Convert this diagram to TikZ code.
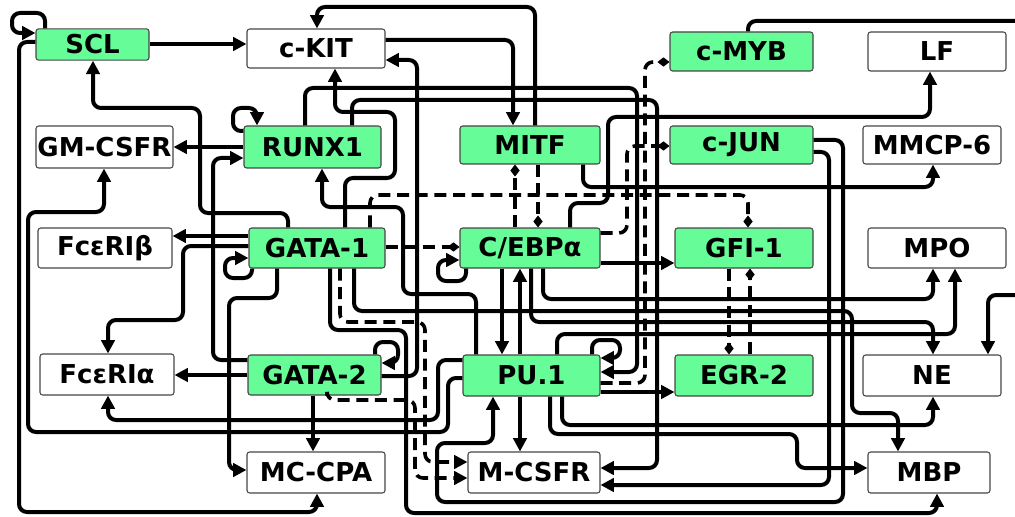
\documentclass[tikz,border=0pt]{standalone}
\usepackage{fontspec}
\setsansfont{DejaVu Sans}
\usetikzlibrary{arrows.meta}
\definecolor{gfill}{RGB}{102,252,152}
\definecolor{bord}{RGB}{70,70,70}
\tikzset{
  box/.style={draw=bord, line width=0.8pt, rounded corners=2pt, inner sep=0pt,
    font=\sffamily\bfseries\fontsize{19.5}{21}\selectfont},
  gbox/.style={box, fill=gfill},
  wbox/.style={box, fill=white},
  arr/.style={line width=3pt, rounded corners=6pt, -{Triangle[length=10pt,width=10pt]}},
  inh/.style={line width=2.7pt, rounded corners=6pt, dash pattern=on 9pt off 5pt, -{Diamond[length=9pt,width=7pt]}},
  darr/.style={line width=2.7pt, rounded corners=6pt, dash pattern=on 9pt off 5pt, -{Triangle[length=10pt,width=10pt]}}
}
\begin{document}
\begin{tikzpicture}[x=0.75pt,y=-0.75pt]
\useasboundingbox (0,0) rectangle (1015,517);
% nodes
\node[gbox, minimum width=84.75pt, minimum height=23.5pt] (scl) at (92.5,44.5) {SCL};
\node[wbox, minimum width=103.5pt, minimum height=29.25pt] (ckit) at (316,48.5) {c-KIT};
\node[gbox, minimum width=107.25pt, minimum height=29.25pt] (cmyb) at (741.5,51.5) {c-MYB};
\node[wbox, minimum width=103.5pt, minimum height=29.25pt] (lf) at (937,51.5) {LF};
\node[wbox, minimum width=102.75pt, minimum height=31.5pt] (gmcsfr) at (104.5,147) {GM-CSFR};
\node[gbox, minimum width=102.75pt, minimum height=31.5pt] (runx1) at (312.5,147) {RUNX1};
\node[gbox, minimum width=105pt, minimum height=28.5pt] (mitf) at (530,145) {MITF};
\node[gbox, minimum width=107.25pt, minimum height=28.5pt] (cjun) at (741.5,145) {c-JUN};
\node[wbox, minimum width=103.5pt, minimum height=28.5pt] (mmcp6) at (932,145) {MMCP-6};
\node[wbox, minimum width=100.5pt, minimum height=30pt] (fcerib) at (105,248) {FcεRIβ};
\node[gbox, minimum width=102pt, minimum height=30pt] (gata1) at (317,248) {GATA-1};
\node[gbox, minimum width=105pt, minimum height=30pt] (cebpa) at (530,248) {C/EBPα};
\node[gbox, minimum width=103.5pt, minimum height=30pt] (gfi1) at (744,248) {GFI-1};
\node[wbox, minimum width=103.5pt, minimum height=30pt] (mpo) at (937,248) {MPO};
\node[wbox, minimum width=100.5pt, minimum height=30.75pt] (fceria) at (107,374.5) {FcεRIα};
\node[gbox, minimum width=99.75pt, minimum height=30pt] (gata2) at (314.5,375) {GATA-2};
\node[gbox, minimum width=102.75pt, minimum height=30.75pt] (pu1) at (531.5,375.5) {PU.1};
\node[gbox, minimum width=103.5pt, minimum height=30.75pt] (egr2) at (744,375.5) {EGR-2};
\node[wbox, minimum width=103.5pt, minimum height=30.75pt] (ne) at (932,375.5) {NE};
\node[wbox, minimum width=103.5pt, minimum height=30.75pt] (mccpa) at (316,472.5) {MC-CPA};
\node[wbox, minimum width=99pt, minimum height=30.75pt] (mcsfr) at (534,472.5) {M-CSFR};
\node[wbox, minimum width=91.5pt, minimum height=30.75pt] (mbp) at (929,472.5) {MBP};
% solid activating edges
\draw[arr] (45,0 |- scl.north) -- (45,13) -- (12,13) -- (12,33) -- (scl.west |- 0,33);
\draw[arr] (scl.east |- 0,44) -- (ckit.west |- 0,44);
\draw[arr] (scl.west |- 0,42) -- (19,42) -- (19,512) -- (317,512) -- (317,0 |- mccpa.south);
\draw[arr] (pu1.west |- 0,360) -- (438,360) -- (438,420) -- (108,420) -- (108,0 |- fceria.south);
\draw[arr] (pu1.west |- 0,378) -- (448,378) -- (448,432) -- (28,432) -- (28,212) -- (104,212) -- (104,0 |- gmcsfr.south);
\draw[arr] (runx1.west |- 0,147) -- (gmcsfr.east |- 0,147);
\draw[arr] (runx1.west |- 0,131) -- (233,131) -- (233,108) -- (257,108) -- (257,0 |- runx1.north);
\draw[arr] (gata2.west |- 0,360) -- (213,360) -- (213,158) -- (runx1.west |- 0,158);
\draw[arr] (288,0 |- gata1.north) -- (288,213) -- (200,213) -- (200,108) -- (93,108) -- (93,0 |- scl.south);
\draw[arr] (gata1.west |- 0,236) -- (fcerib.east |- 0,236);
\draw[arr] (gata1.west |- 0,246) -- (183,246) -- (183,320) -- (108,320) -- (108,0 |- fceria.north);
\draw[arr] (252,0 |- gata1.south) -- (252,278) -- (225,278) -- (225,258) -- (gata1.west |- 0,258);
\draw[arr] (277,0 |- gata1.south) -- (277,298) -- (229,298) -- (229,470) -- (mccpa.west |- 0,470);
\draw[arr] (gata2.west |- 0,375) -- (fceria.east |- 0,375);
\draw[arr] (313,0 |- gata2.south) -- (313,0 |- mccpa.north);
\draw[arr] (375,0 |- gata2.north) -- (375,342) -- (398,342) -- (398,363) -- (gata2.east |- 0,363);
\draw[arr] (gata2.east |- 0,376) -- (417,376) -- (417,60) -- (ckit.east |- 0,60);
\draw[arr] (330,0 |- gata1.south) -- (330,330) -- (406,330) -- (406,513) -- (937,513) -- (937,0 |- mbp.south);
\draw[arr] (354,0 |- gata1.south) -- (354,311) -- (852,311) -- (852,413) -- (898,413) -- (898,0 |- mbp.north);
\draw[arr] (345,0 |- gata1.north) -- (345,178) -- (395,178) -- (395,112) -- (335,112) -- (335,0 |- ckit.south);
\draw[arr] (476,0 |- pu1.north) -- (476,294) -- (403,294) -- (403,207) -- (322,207) -- (322,0 |- runx1.south);
\draw[arr] (535,0 |- mitf.north) -- (535,7) -- (317,7) -- (317,0 |- ckit.north);
\draw[arr] (ckit.east |- 0,40) -- (513,40) -- (513,0 |- mitf.north);
\draw[arr] (748,0 |- cmyb.north) -- (748,21) -- (1030,21) -- (1030,295) -- (988,295) -- (988,0 |- ne.north);
\draw[arr] (305,0 |- runx1.north) -- (305,88) -- (637,88) -- (637,372) -- (pu1.east |- 0,372);
\draw[arr] (352,0 |- runx1.north) -- (352,100) -- (657,100) -- (657,468) -- (mcsfr.east |- 0,468);
\draw[arr] (570,0 |- cebpa.north) -- (570,203) -- (608,203) -- (608,117) -- (930,117) -- (930,0 |- lf.south);
\draw[arr] (466,0 |- cebpa.south) -- (466,281) -- (438,281) -- (438,260) -- (cebpa.west |- 0,260);
\draw[arr] (583,0 |- mitf.south) -- (583,187) -- (933,187) -- (933,0 |- mmcp6.south);
\draw[arr] (cjun.east |- 0,152) -- (829,152) -- (829,485) -- (mcsfr.east |- 0,485);
\draw[arr] (cjun.east |- 0,140) -- (843,140) -- (843,502) -- (437,502) -- (437,443) -- (493,443) -- (493,0 |- pu1.south);
\draw[arr] (502,0 |- cebpa.south) -- (502,0 |- pu1.north);
\draw[arr] (520,0 |- pu1.north) -- (520,0 |- cebpa.south);
\draw[arr] (520,0 |- pu1.south) -- (520,0 |- mcsfr.north);
\draw[arr] (pu1.east |- 0,392) -- (egr2.west |- 0,392);
\draw[arr] (cebpa.east |- 0,263) -- (gfi1.west |- 0,263);
\draw[arr] (592,0 |- pu1.north) -- (592,340) -- (620,340) -- (620,358) -- (pu1.east |- 0,358);
\draw[arr] (562,0 |- pu1.south) -- (562,425) -- (933,425) -- (933,0 |- ne.south);
\draw[arr] (550,0 |- pu1.south) -- (550,434) -- (797,434) -- (797,468) -- (mbp.west |- 0,468);
\draw[arr] (543,0 |- cebpa.south) -- (543,299) -- (933,299) -- (933,0 |- mpo.south);
\draw[arr] (531,0 |- cebpa.south) -- (531,322) -- (933,322) -- (933,0 |- ne.north);
\draw[arr] (557,0 |- pu1.north) -- (557,334) -- (955,334) -- (955,0 |- mpo.south);
% dashed edges
\draw[inh] (pu1.east |- 0,383) -- (645,383) -- (645,62) -- (cmyb.west |- 0,62);
\draw[inh] (cebpa.east |- 0,233) -- (627,233) -- (627,146) -- (cjun.west |- 0,146);
\draw[inh] (515,0 |- cebpa.north) -- (515,0 |- mitf.south);
\draw[inh] (538,0 |- mitf.south) -- (538,0 |- cebpa.north);
\draw[inh] (370,0 |- gata1.north) -- (370,195) -- (748,195) -- (748,0 |- gfi1.north);
\draw[inh] (gata1.east |- 0,247) -- (cebpa.west |- 0,247);
\draw[inh] (729,0 |- gfi1.south) -- (729,0 |- egr2.north);
\draw[inh] (750,0 |- egr2.north) -- (750,0 |- gfi1.south);
\draw[darr] (340,0 |- gata1.south) -- (340,322) -- (425,322) -- (425,462) -- (mcsfr.west |- 0,462);
\draw[darr] (327,0 |- gata2.south) -- (327,400) -- (415,400) -- (415,478) -- (mcsfr.west |- 0,478);
\end{tikzpicture}
\end{document}
